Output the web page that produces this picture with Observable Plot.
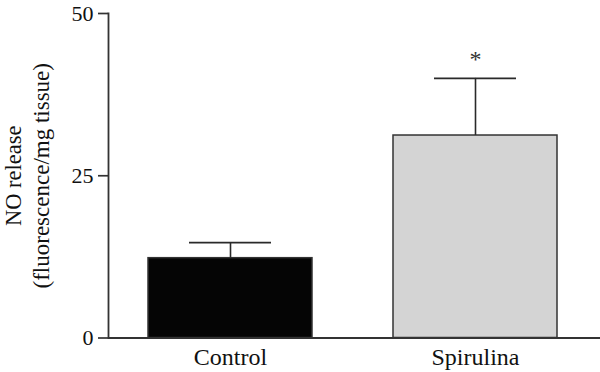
<!DOCTYPE html>
<html>
<head>
<meta charset="utf-8">
<script src="https://cdn.jsdelivr.net/npm/d3@7"></script>
<script src="https://cdn.jsdelivr.net/npm/@observablehq/plot@0.6"></script>
<style>
  html, body { margin: 0; padding: 0; background: #fff; }
</style>
</head>
<body>
<div id="chart"></div>
<script>
const groups = ["Control", "Spirulina"];
const means = [12.3, 31.2];
const upper = [14.7, 40.0];
const fills = ["#050505", "#d4d4d4"];
const significance = ["", "*"];
const yTicks = [0, 25, 50];

const data = groups.map((g, i) => ({group: g, mean: means[i], upper: upper[i], fill: fills[i], sig: significance[i]}));
const FONT = "Liberation Serif";

const chart = Plot.plot({
  width: 600,
  height: 372,
  marginLeft: 108,
  marginRight: 2,
  marginTop: 13,
  marginBottom: 34.5,
  style: {background: "#fff", fontFamily: FONT},
  x: {domain: groups, paddingInner: 0.33, paddingOuter: 0.164, label: null},
  y: {domain: [0, 50], label: null},
  marks: [
    Plot.barY(data, {x: "group", y: "mean", fill: "fill", stroke: "#333", strokeWidth: 1.5}),
    Plot.ruleX(data, {x: "group", y1: "mean", y2: "upper", stroke: "#2a2a2a", strokeWidth: 1.6}),
    Plot.tickY(data, {x: "group", y: "upper", stroke: "#2a2a2a", strokeWidth: 1.6, insetLeft: 41, insetRight: 41}),
    Plot.text(data, {x: "group", y: "upper", text: "sig", fontSize: 24, fontFamily: FONT, lineAnchor: "bottom", dy: -11, fill: "#333"}),
    Plot.axisY({ticks: yTicks, tickSize: 10, tickPadding: 5, fontSize: 22, fontFamily: FONT, stroke: "#333", strokeWidth: 1.7, fill: "#111", label: null}),
    Plot.frame({anchor: "left", stroke: "#333", strokeWidth: 1.8}),
    Plot.ruleY([0], {stroke: "#333", strokeWidth: 1.8, insetRight: -2}),
    Plot.axisX({tickSize: 0, tickPadding: 10, fontSize: 24, fontFamily: FONT, fill: "#111", label: null}),
    Plot.text(["NO release"], {frameAnchor: "left", rotate: -90, dx: -95, fontSize: 22.5, fontFamily: FONT, fill: "#111", textAnchor: "middle", lineAnchor: "middle"}),
    Plot.text(["(fluorescence/mg tissue)"], {frameAnchor: "left", rotate: -90, dx: -67, fontSize: 23, fontFamily: FONT, fill: "#111", textAnchor: "middle", lineAnchor: "middle"})
  ]
});
document.getElementById("chart").appendChild(chart);
</script>
</body>
</html>
